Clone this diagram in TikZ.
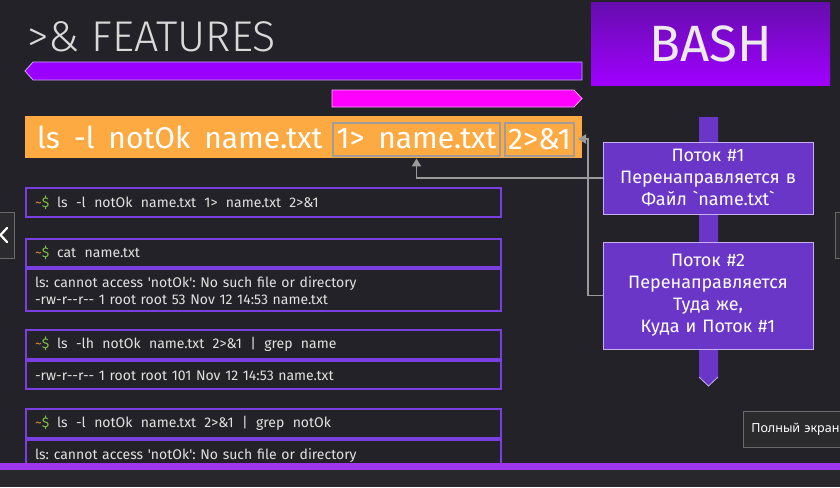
\documentclass[tikz,border=0pt]{standalone}
\usepackage{fontspec}
\newfontfamily\firafont{Fira Sans}
\newfontfamily\thinfont{Fira Sans Light}
\newfontfamily\uifont{Noto Sans}
\usetikzlibrary{arrows.meta,calc}

\definecolor{bgdark}{HTML}{232228}
\definecolor{bgfoot}{HTML}{28272C}
\definecolor{titlegray}{HTML}{D9D9D9}
\definecolor{violetbar}{HTML}{9900FF}
\definecolor{violetedge}{HTML}{C9A6F0}
\definecolor{magentabar}{HTML}{FF00FF}
\definecolor{magentaedge}{HTML}{FFA6FF}
\definecolor{bashtop}{HTML}{660DAE}
\definecolor{bashbottom}{HTML}{A000FF}
\definecolor{cmdorange}{HTML}{FDAA42}
\definecolor{frame}{HTML}{A09C98}
\definecolor{wire}{HTML}{9A9A9A}
\definecolor{flowfill}{HTML}{6A36C8}
\definecolor{flowedge}{HTML}{C4B0EF}
\definecolor{termedge}{HTML}{7A3FE0}
\definecolor{termtext}{HTML}{E2E2E2}
\definecolor{tilde}{HTML}{E08A3C}
\definecolor{dollar}{HTML}{7CC142}
\definecolor{stripe}{HTML}{A035EC}
\definecolor{tipfill}{HTML}{2B2B2D}
\definecolor{tipedge}{HTML}{6A6A6A}

\frenchspacing
\newcommand\gap{\hspace{0.46em}}
\newcommand\tgap{\hspace{0.6em}}
\newcommand\prompt{{\color{tilde}\textasciitilde}{\color{dollar}\$}\hspace{0.55em}}

\tikzset{
  bartext/.style={text=white, font=\firafont\fontsize{30}{30}\selectfont, inner sep=0pt},
  framebox/.style={draw=frame, line width=2pt, minimum height=33pt, inner sep=0pt,
    text=white, font=\firafont\fontsize{30}{30}\selectfont},
  flowbox/.style={fill=flowfill, draw=flowedge, line width=0.8pt, text=white,
    minimum width=210pt, text width=200pt, align=center, inner sep=0pt,
    font=\firafont\fontsize{18}{22}\selectfont},
  conn/.style={draw=wire, line width=1.8pt, -{Triangle[length=8pt,width=9pt]}},
  termrow/.style={draw=termedge, line width=2.2pt, anchor=north west,
    minimum width=475pt, text width=457pt, inner xsep=9pt, inner ysep=0pt,
    align=left, text=termtext, font=\firafont\fontsize{14}{17}\selectfont},
  navbtn/.style={fill=tipfill, draw=tipedge, line width=0.8pt, inner sep=0pt},
}

\begin{document}
\begin{tikzpicture}[x=1pt, y=-1pt]
  \useasboundingbox (0,0) rectangle (840,487);
  \clip (0,0) rectangle (840,487);
  \fill[bgdark] (0,0) rectangle (840,487);

  % heading
  \node[anchor=base west, text=titlegray, inner sep=0pt,
        font=\thinfont\fontsize{43}{43}\selectfont] (title) at (27,52) {>\& FEATURES};

  % direction bars
  \filldraw[fill=violetbar, draw=violetedge, line width=0.8pt]
    (25,71) -- (33,62) -- (582,62) -- (582,80) -- (33,80) -- cycle;
  \filldraw[fill=magentabar, draw=magentaedge, line width=0.8pt]
    (332,90) -- (574,90) -- (582,98.5) -- (574,107) -- (332,107) -- cycle;

  % BASH badge
  \node[top color=bashtop, bottom color=bashbottom, minimum width=239pt, minimum height=83pt,
        anchor=north west, inner sep=0pt, text=white!92!black,
        font=\firafont\fontsize{51}{51}\selectfont] (bash) at (591,2) {BASH};

  % the command line
  \node[fill=cmdorange, minimum width=557pt, minimum height=42pt, anchor=north west,
        inner sep=0pt] (bar) at (25,116) {};
  \node[bartext, anchor=west] (cmd) at (37,137.5) {ls\gap -l\gap notOk\gap name.txt};
  \node[framebox, minimum width=167pt] (redir1) at (416.5,139) {1>\gap name.txt};
  \node[framebox, minimum width=69pt] (dup) at (539.5,139) {2>\&1};

  % stream explanation column
  \fill[flowfill] (699,117) -- (718,117) -- (718,377) -- (708.5,386) -- (699,377) -- cycle;
  \draw[flowedge, line width=0.8pt] (699,377) -- (708.5,386) -- (718,377);
  \node[flowbox, minimum height=72pt] (p1) at (708,178)
    {Поток \#1\\Перенаправляется в\\Файл \symbol{96}name.txt\symbol{96}};
  \node[flowbox, minimum height=107pt] (p2) at (708,295.5)
    {Поток \#2\\Перенаправляется\\Туда же,\\Куда и Поток \#1};

  % connectors
  \draw[conn] (p1.west) -| (redir1.south |- bar.south);
  \coordinate (knee) at (588,139);
  \draw[conn] (p2.west) -| (knee) -- ([xshift=3pt]dup.east);

  % terminal sessions
  \node[termrow, minimum height=29pt] (a1) at (25,187)
    {\prompt ls\tgap -l\tgap notOk\tgap name.txt\tgap 1>\tgap name.txt\tgap 2>\&1};

  \node[termrow, minimum height=28pt] (b1) at (25,238) {\prompt cat\tgap name.txt};
  \node[termrow, minimum height=42pt] (b2) at (b1.south west)
    {ls: cannot access \textquotesingle notOk\textquotesingle: No such file or directory\\
     -rw-r--r-- 1 root root 53 Nov 12 14:53 name.txt};

  \node[termrow, minimum height=29pt] (c1) at (25,329)
    {\prompt ls\tgap -lh\tgap notOk\tgap name.txt\tgap 2>\&1\tgap |\tgap grep\tgap name};
  \node[termrow, minimum height=28pt] (c2) at (c1.south west)
    {-rw-r--r-- 1 root root 101 Nov 12 14:53 name.txt};

  \node[termrow, minimum height=29pt] (d1) at (25,408)
    {\prompt ls\tgap -l\tgap notOk\tgap name.txt\tgap 2>\&1\tgap |\tgap grep\tgap notOk};
  \node[termrow, minimum height=30pt] (d2) at (d1.south west)
    {ls: cannot access \textquotesingle notOk\textquotesingle: No such file or directory};

  % player chrome
  \node[navbtn, anchor=north east, minimum width=20pt, minimum height=46pt] (prev) at (15,212) {};
  \draw[white, line width=2.2pt, line cap=round, line join=round]
    (7,228) -- (0.5,235) -- (7,242);
  \node[navbtn, anchor=north west, minimum width=20pt, minimum height=46pt] (next) at (835,212) {};
  \node[navbtn, anchor=north west, minimum width=120pt, minimum height=36pt, inner xsep=8pt,
        text width=104pt, align=left, text=white,
        font=\uifont\fontsize{12.5}{15}\selectfont] (hint) at (743,411) {Полный экран};

  % progress stripe
  \fill[stripe] (0,463) rectangle (840,470);
  \fill[bgfoot] (0,470) rectangle (840,487);
\end{tikzpicture}
\end{document}
